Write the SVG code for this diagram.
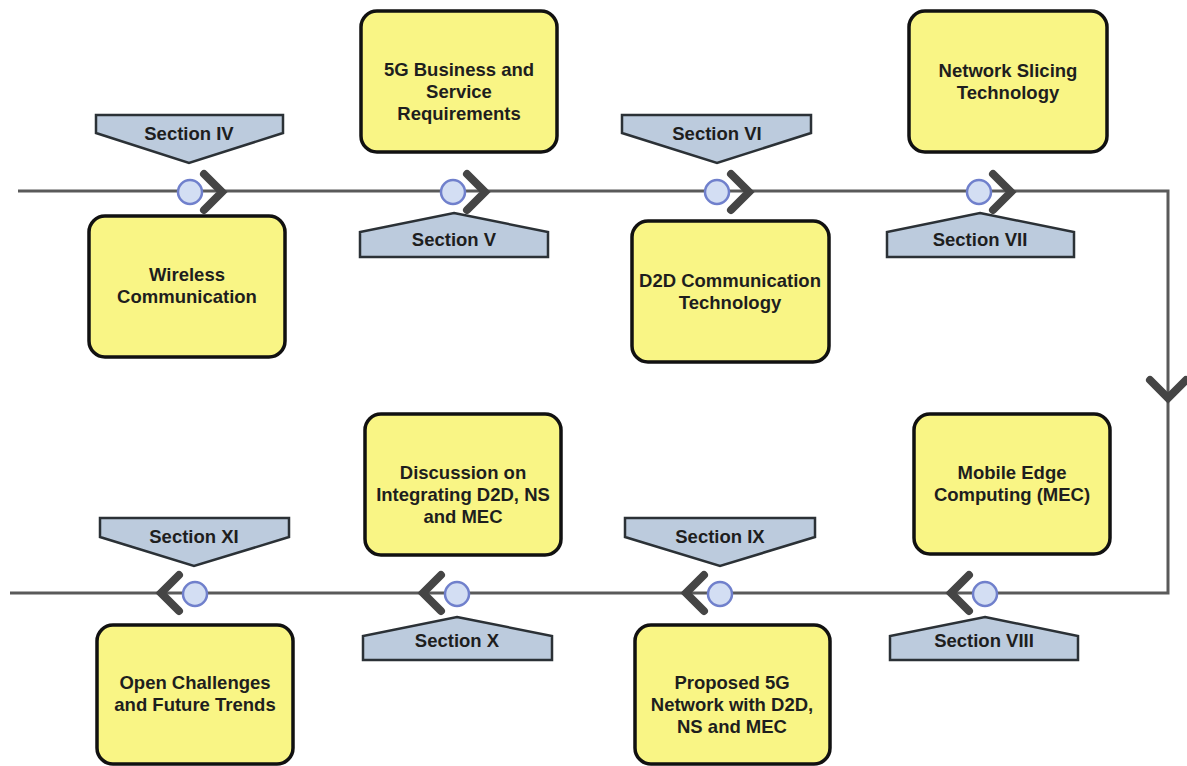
<svg xmlns="http://www.w3.org/2000/svg" width="1187" height="766" viewBox="0 0 1187 766">
<style>
.box{fill:#f9f585;stroke:#111;stroke-width:3.5}
.sec{fill:#bccbdd;stroke:#2b3136;stroke-width:2.5;stroke-linejoin:miter}
.t{font-family:"Liberation Sans",Arial,sans-serif;font-weight:bold;font-size:18.5px;fill:#1e1e1e;text-anchor:middle}
.line{fill:none;stroke:#5a5a5a;stroke-width:3}
.chev{fill:none;stroke:#454545;stroke-width:8;stroke-linecap:round;stroke-linejoin:miter}
.dot{fill:#d3def3;stroke:#7080cc;stroke-width:2.5}
</style>
<rect width="1187" height="766" fill="#ffffff"/>
<g id="connectors">
<path class="line" d="M18 191 H1168 V593 H10"/>
<path class="chev" d="M1150 380 L1168 398 L1186 380"/>
<circle class="dot" cx="190" cy="192" r="12"/>
<path class="chev" d="M204 174 L222 192 L204 210"/>
<circle class="dot" cx="453" cy="192" r="12"/>
<path class="chev" d="M467 174 L485 192 L467 210"/>
<circle class="dot" cx="717" cy="192" r="12"/>
<path class="chev" d="M731 174 L749 192 L731 210"/>
<circle class="dot" cx="979" cy="192" r="12"/>
<path class="chev" d="M993 174 L1011 192 L993 210"/>
<path class="chev" d="M179 575 L161 593 L179 611"/>
<circle class="dot" cx="195" cy="594" r="12"/>
<path class="chev" d="M441 575 L423 593 L441 611"/>
<circle class="dot" cx="457" cy="594" r="12"/>
<path class="chev" d="M704 575 L686 593 L704 611"/>
<circle class="dot" cx="720" cy="594" r="12"/>
<path class="chev" d="M969 575 L951 593 L969 611"/>
<circle class="dot" cx="985" cy="594" r="12"/>
</g>
<g id="section-iv"><polygon class="sec" points="96,115 283,115 283,133 189,163 96,133"/><text class="t" x="189" y="140">Section IV</text></g>
<g id="section-v"><polygon class="sec" points="454,213 548,232 548,257 360,257 360,232"/><text class="t" x="454" y="246">Section V</text></g>
<g id="section-vi"><polygon class="sec" points="622,115 811,115 811,133 717,163 622,133"/><text class="t" x="717" y="140">Section VI</text></g>
<g id="section-vii"><polygon class="sec" points="980,213 1074,232 1074,257 887,257 887,232"/><text class="t" x="980" y="246">Section VII</text></g>
<g id="section-viii"><polygon class="sec" points="985,617 1078,636 1078,660 890,660 890,636"/><text class="t" x="984" y="647">Section VIII</text></g>
<g id="section-ix"><polygon class="sec" points="625,518 815,518 815,537 720,566 625,537"/><text class="t" x="720" y="543">Section IX</text></g>
<g id="section-x"><polygon class="sec" points="457,617 552,636 552,660 363,660 363,636"/><text class="t" x="457" y="647">Section X</text></g>
<g id="section-xi"><polygon class="sec" points="100,518 289,518 289,537 194,566 100,537"/><text class="t" x="194" y="543">Section XI</text></g>
<g id="wireless"><rect class="box" x="89" y="216" width="196" height="141" rx="16"/><text class="t" x="187" y="281">Wireless</text><text class="t" x="187" y="303">Communication</text></g>
<g id="business"><rect class="box" x="361" y="11" width="196" height="141" rx="16"/><text class="t" x="459" y="76">5G Business and</text><text class="t" x="459" y="98">Service</text><text class="t" x="459" y="120">Requirements</text></g>
<g id="d2d"><rect class="box" x="632" y="221" width="197" height="141" rx="16"/><text class="t" x="730" y="287">D2D Communication</text><text class="t" x="730" y="309">Technology</text></g>
<g id="slicing"><rect class="box" x="909" y="11" width="198" height="141" rx="16"/><text class="t" x="1008" y="77">Network Slicing</text><text class="t" x="1008" y="99">Technology</text></g>
<g id="mec"><rect class="box" x="914" y="414" width="196" height="140" rx="16"/><text class="t" x="1012" y="479">Mobile Edge</text><text class="t" x="1012" y="501">Computing (MEC)</text></g>
<g id="discussion"><rect class="box" x="365" y="414" width="196" height="141" rx="16"/><text class="t" x="463" y="479">Discussion on</text><text class="t" x="463" y="501">Integrating D2D, NS</text><text class="t" x="463" y="523">and MEC</text></g>
<g id="proposed"><rect class="box" x="635" y="625" width="195" height="139" rx="16"/><text class="t" x="732" y="689">Proposed 5G</text><text class="t" x="732" y="711">Network with D2D,</text><text class="t" x="732" y="733">NS and MEC</text></g>
<g id="open"><rect class="box" x="97" y="625" width="196" height="139" rx="16"/><text class="t" x="195" y="689">Open Challenges</text><text class="t" x="195" y="711">and Future Trends</text></g>
</svg>
